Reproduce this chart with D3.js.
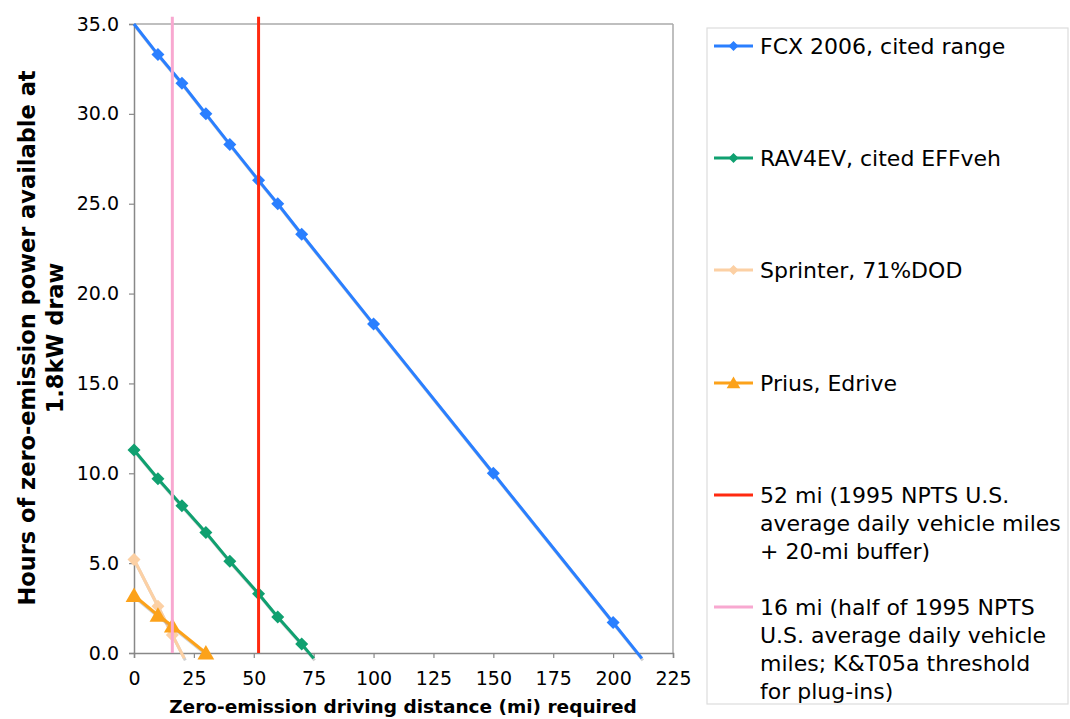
<!DOCTYPE html>
<html><head><meta charset="utf-8">
<script src="https://cdn.jsdelivr.net/npm/d3@7"></script>
<style>body{margin:0;background:#fff}svg{display:block}</style>
</head><body>
<svg id="c" width="1070" height="719"></svg>
<script>
// ---- data ----
const xTicks = [0,25,50,75,100,125,150,175,200,225];
const yTicks = [0,5,10,15,20,25,30,35];
const fcxX = [0,10,20,30,40,52,60,70,100,150,200,212];
const fcxY = [35.0,33.3,31.7,30.0,28.3,26.3,25.0,23.3,18.3,10.0,1.7,-0.3];
const ravX = [0,10,20,30,40,52,60,70,75];
const ravY = [11.3,9.7,8.2,6.7,5.1,3.3,2.0,0.5,-0.3];
const sprX = [0,10,16,21];
const sprY = [5.2,2.6,1.0,-0.3];
const priX = [0,10,16,30];
const priY = [3.2,2.1,1.5,0.0];
const red52X = [52,52];
const red52Y = [0,35.4];
const pink16X = [16,16];
const pink16Y = [0,35.4];
const legendLabels = [
  ["FCX 2006, cited range"],
  ["RAV4EV, cited EFFveh"],
  ["Sprinter, 71%DOD"],
  ["Prius, Edrive"],
  ["52 mi (1995 NPTS U.S.","average daily vehicle miles","+ 20-mi buffer)"],
  ["16 mi (half of 1995 NPTS","U.S. average daily vehicle","miles; K&T05a threshold","for plug-ins)"]
];

const series = [
  {x:fcxX,y:fcxY,color:"#2a7fff",marker:"diamond",ms:13},
  {x:ravX,y:ravY,color:"#10a070",marker:"diamond",ms:13},
  {x:sprX,y:sprY,color:"#fcd0a4",marker:"diamond",ms:13},
  {x:priX,y:priY,color:"#fca21a",marker:"triangle",ms:16},
  {x:red52X,y:red52Y,color:"#ff2a10",marker:null},
  {x:pink16X,y:pink16Y,color:"#f8a8d0",marker:null}
];

const svg = d3.select("#c");
svg.append("rect").attr("width",1070).attr("height",719).attr("fill","#fff");
const x = d3.scaleLinear().domain([0,225]).range([134,673]);
const y = d3.scaleLinear().domain([0,35]).range([653,24]);
const font = "'DejaVu Sans', Verdana, sans-serif";

// plot frame (top & right)
svg.append("line").attr("x1",x(0)).attr("x2",x(225)).attr("y1",y(35)).attr("y2",y(35)).attr("stroke","#aaa").attr("stroke-width",1.5);
svg.append("line").attr("x1",x(225)).attr("x2",x(225)).attr("y1",y(35)).attr("y2",y(0)).attr("stroke","#aaa").attr("stroke-width",1.5);

// axes
const yAxis = d3.axisLeft(y).tickValues(yTicks).tickFormat(d3.format(".1f")).tickSize(5).tickPadding(10);
const xAxis = d3.axisBottom(x).tickValues(xTicks).tickFormat(d3.format("d")).tickSize(5).tickPadding(14);
const gy = svg.append("g").attr("transform",`translate(${x(0)},0)`).call(yAxis);
const gx = svg.append("g").attr("transform",`translate(0,${y(0)})`).call(xAxis);
[gx,gy].forEach(g=>{
  g.attr("font-size",19).attr("font-family",font);
  g.select(".domain").attr("stroke","#888").attr("stroke-width",1.5);
  g.selectAll(".tick line").attr("stroke","#888").attr("stroke-width",1.2);
  g.selectAll(".tick text").attr("font-family",font).attr("font-size",19).attr("fill","#000");
});

// axis titles
svg.append("text").attr("x",403).attr("y",713).attr("text-anchor","middle")
  .attr("font-family",font).attr("font-weight","bold").attr("font-size",18.5)
  .text("Zero-emission driving distance (mi) required");
const yt = svg.append("text").attr("transform","translate(35,338) rotate(-90)").attr("text-anchor","middle")
  .attr("font-family",font).attr("font-weight","bold").attr("font-size",22.5);
yt.append("tspan").attr("x",0).attr("y",0).text("Hours of zero-emission power available at");
yt.append("tspan").attr("x",0).attr("y",28).text("1.8kW draw");

// series
const line = d3.line().x(d=>x(d[0])).y(d=>y(d[1]));
function markerPath(type,s){
  if(type==="diamond"){const h=s/2;return `M0,${-h}L${h},0L0,${h}L${-h},0Z`;}
  const h=s/2;return `M0,${-h}L${h*1.05},${h*0.8}L${-h*1.05},${h*0.8}Z`;
}
series.forEach(s=>{
  const pts = s.x.map((v,i)=>[v,s.y[i]]);
  if(s.marker){
    svg.append("path").attr("d",line(pts)).attr("fill","none").attr("stroke","#777").attr("stroke-opacity",0.35)
      .attr("stroke-width",3).attr("transform","translate(1,2)");
  }
  svg.append("path").attr("d",line(pts)).attr("fill","none").attr("stroke",s.color).attr("stroke-width",3);
  if(s.marker){
    svg.selectAll(null).data(pts.filter(p=>p[1]>=0 && p[1]<35 && !(p[1]<0.2 && s.marker==="diamond"))).enter().append("path")
      .attr("transform",p=>`translate(${x(p[0])},${y(p[1])})`)
      .attr("d",markerPath(s.marker,s.ms)).attr("fill",s.color);
  }
});

// legend
svg.append("rect").attr("x",707).attr("y",28).attr("width",361).attr("height",676)
  .attr("fill","#fff").attr("stroke","#ddd").attr("stroke-width",1.2);
const legY = [46,158,270,383,495,607];
series.forEach((s,i)=>{
  const cy = legY[i];
  svg.append("line").attr("x1",714).attr("x2",753).attr("y1",cy).attr("y2",cy).attr("stroke",s.color).attr("stroke-width",3);
  if(s.marker) svg.append("path").attr("transform",`translate(733.5,${cy})`).attr("d",markerPath(s.marker,s.marker==="diamond"?10:13)).attr("fill",s.color);
  const t = svg.append("text").attr("font-family",font).attr("font-size",22).attr("fill","#000");
  legendLabels[i].forEach((l,j)=>t.append("tspan").attr("x",760).attr("y",cy+8+j*28).text(l));
});
</script>
</body></html>
